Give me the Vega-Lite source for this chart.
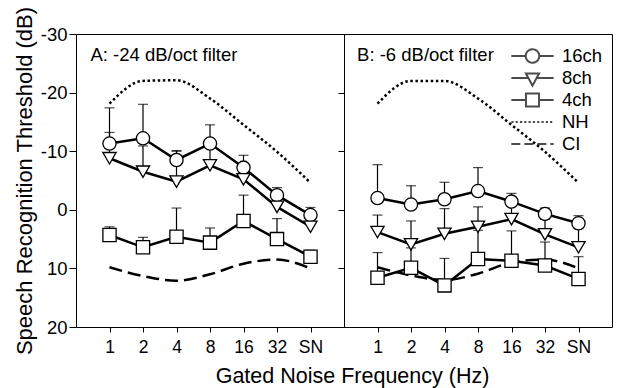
{
  "$schema": "https://vega.github.io/schema/vega-lite/v6.json",
  "padding": {"left": 12, "top": 5, "right": 4, "bottom": 0},
  "autosize": {"type": "pad"},
  "spacing": 0,
  "bounds": "flush",
  "config": {
    "font": "Liberation Sans",
    "view": {"stroke": "black", "strokeWidth": 1},
    "axis": {"domain": false, "grid": false, "tickColor": "black", "labelColor": "black", "titleColor": "black", "labelFont": "Liberation Sans", "titleFont": "Liberation Sans", "titleFontWeight": "normal"},
    "legend": {"labelFont": "Liberation Sans"}
  },
  "data": {"values": [
    {"panel": "A", "f": 1, "series": "16ch", "v": -11.3, "top": -17.4},
    {"panel": "A", "f": 2, "series": "16ch", "v": -12.2, "top": -18.0},
    {"panel": "A", "f": 3, "series": "16ch", "v": -8.5, "top": -10.1},
    {"panel": "A", "f": 4, "series": "16ch", "v": -11.3, "top": -14.5},
    {"panel": "A", "f": 5, "series": "16ch", "v": -7.2, "top": -9.3},
    {"panel": "A", "f": 6, "series": "16ch", "v": -2.5, "top": -3.8},
    {"panel": "A", "f": 7, "series": "16ch", "v": 0.9, "top": -0.4},
    {"panel": "A", "f": 1, "series": "8ch", "v": -8.8, "top": -13.2},
    {"panel": "A", "f": 2, "series": "8ch", "v": -6.5, "top": -10.9},
    {"panel": "A", "f": 3, "series": "8ch", "v": -4.8, "top": -10.0},
    {"panel": "A", "f": 4, "series": "8ch", "v": -7.6, "top": -10.6},
    {"panel": "A", "f": 5, "series": "8ch", "v": -5.2, "top": -7.0},
    {"panel": "A", "f": 6, "series": "8ch", "v": -0.5, "top": -1.6},
    {"panel": "A", "f": 7, "series": "8ch", "v": 2.9, "top": 1.5},
    {"panel": "A", "f": 1, "series": "4ch", "v": 4.3, "top": 2.9},
    {"panel": "A", "f": 2, "series": "4ch", "v": 6.4, "top": 4.7},
    {"panel": "A", "f": 3, "series": "4ch", "v": 4.6, "top": -0.3},
    {"panel": "A", "f": 4, "series": "4ch", "v": 5.6, "top": 3.1},
    {"panel": "A", "f": 5, "series": "4ch", "v": 1.9, "top": -2.5},
    {"panel": "A", "f": 6, "series": "4ch", "v": 5.0, "top": 1.5},
    {"panel": "A", "f": 7, "series": "4ch", "v": 8.0, "top": 6.9},
    {"panel": "A", "f": 1, "series": "NH", "v": -18.1},
    {"panel": "A", "f": 2, "series": "NH", "v": -22.0},
    {"panel": "A", "f": 3, "series": "NH", "v": -22.1},
    {"panel": "A", "f": 4, "series": "NH", "v": -19.0},
    {"panel": "A", "f": 5, "series": "NH", "v": -14.5},
    {"panel": "A", "f": 6, "series": "NH", "v": -9.9},
    {"panel": "A", "f": 7, "series": "NH", "v": -4.6},
    {"panel": "A", "f": 1, "series": "CI", "v": 9.8},
    {"panel": "A", "f": 2, "series": "CI", "v": 11.3},
    {"panel": "A", "f": 3, "series": "CI", "v": 12.1},
    {"panel": "A", "f": 4, "series": "CI", "v": 11.0},
    {"panel": "A", "f": 5, "series": "CI", "v": 9.2},
    {"panel": "A", "f": 6, "series": "CI", "v": 8.5},
    {"panel": "A", "f": 7, "series": "CI", "v": 10.0},
    {"panel": "B", "f": 1, "series": "16ch", "v": -2.0, "top": -7.7},
    {"panel": "B", "f": 2, "series": "16ch", "v": -0.9, "top": -4.1},
    {"panel": "B", "f": 3, "series": "16ch", "v": -1.8, "top": -4.7},
    {"panel": "B", "f": 4, "series": "16ch", "v": -3.2, "top": -7.2},
    {"panel": "B", "f": 5, "series": "16ch", "v": -1.4, "top": -2.8},
    {"panel": "B", "f": 6, "series": "16ch", "v": 0.7, "top": -0.3},
    {"panel": "B", "f": 7, "series": "16ch", "v": 2.3, "top": 1.0},
    {"panel": "B", "f": 1, "series": "8ch", "v": 3.8, "top": 0.9},
    {"panel": "B", "f": 2, "series": "8ch", "v": 5.9, "top": 1.9},
    {"panel": "B", "f": 3, "series": "8ch", "v": 4.1, "top": -0.2},
    {"panel": "B", "f": 4, "series": "8ch", "v": 2.9, "top": -0.5},
    {"panel": "B", "f": 5, "series": "8ch", "v": 1.6, "top": -1.6},
    {"panel": "B", "f": 6, "series": "8ch", "v": 4.2, "top": 1.6},
    {"panel": "B", "f": 7, "series": "8ch", "v": 6.4, "top": 3.2},
    {"panel": "B", "f": 1, "series": "4ch", "v": 11.6, "top": 7.3},
    {"panel": "B", "f": 2, "series": "4ch", "v": 9.9, "top": 6.5},
    {"panel": "B", "f": 3, "series": "4ch", "v": 12.9, "top": 8.3},
    {"panel": "B", "f": 4, "series": "4ch", "v": 8.4, "top": 3.5},
    {"panel": "B", "f": 5, "series": "4ch", "v": 8.7, "top": 3.6},
    {"panel": "B", "f": 6, "series": "4ch", "v": 9.5, "top": 5.5},
    {"panel": "B", "f": 7, "series": "4ch", "v": 11.8, "top": 8.0},
    {"panel": "B", "f": 1, "series": "NH", "v": -18.1},
    {"panel": "B", "f": 2, "series": "NH", "v": -22.0},
    {"panel": "B", "f": 3, "series": "NH", "v": -22.0},
    {"panel": "B", "f": 4, "series": "NH", "v": -19.0},
    {"panel": "B", "f": 5, "series": "NH", "v": -14.5},
    {"panel": "B", "f": 6, "series": "NH", "v": -9.9},
    {"panel": "B", "f": 7, "series": "NH", "v": -4.6},
    {"panel": "B", "f": 1, "series": "CI", "v": 9.8},
    {"panel": "B", "f": 2, "series": "CI", "v": 11.2},
    {"panel": "B", "f": 3, "series": "CI", "v": 12.0},
    {"panel": "B", "f": 4, "series": "CI", "v": 10.9},
    {"panel": "B", "f": 5, "series": "CI", "v": 9.0},
    {"panel": "B", "f": 6, "series": "CI", "v": 8.5},
    {"panel": "B", "f": 7, "series": "CI", "v": 10.0}
  ]},
  "hconcat": [
    {
      "width": 268,
      "height": 293,
      "transform": [{"filter": "datum.panel == 'A'"}],
      "encoding": {
        "x": {"field": "f", "type": "quantitative", "scale": {"domain": [0, 8], "nice": false},
          "axis": {"values": [1, 2, 3, 4, 5, 6, 7], "labelExpr": "['','1','2','4','8','16','32','SN'][datum.value]", "title": "Gated Noise Frequency (Hz)", "titleX": 276, "tickSize": 5, "labelFontSize": 17.5, "titleFontSize": 21.5, "labelPadding": 6, "titlePadding": 10}},
        "y": {"field": "v", "type": "quantitative", "scale": {"domain": [-30, 20], "reverse": true, "nice": false},
          "axis": {"values": [-30, -20, -10, 0, 10, 20], "labelExpr": "datum.value < 0 ? '-' + abs(datum.value) : '' + datum.value", "title": "Speech Recognition Threshold (dB)", "tickSize": 7, "labelFontSize": 18.5, "titleFontSize": 22, "labelPadding": 2, "titlePadding": 4}}
      },
      "layer": [
        {"transform": [{"filter": "isValid(datum.top)"}], "mark": {"type": "rule", "color": "black", "strokeWidth": 1.2}, "encoding": {"y2": {"field": "top"}}},
        {"transform": [{"filter": "isValid(datum.top)"}], "mark": {"type": "tick", "orient": "horizontal", "color": "black", "size": 10, "thickness": 1.2}, "encoding": {"y": {"field": "top", "type": "quantitative"}}},
        {"transform": [{"filter": "indexof(['16ch','8ch','4ch'], datum.series) >= 0"}], "mark": {"type": "line", "color": "black", "strokeWidth": 2.5}, "encoding": {"detail": {"field": "series"}}},
        {"transform": [{"filter": "datum.series == 'NH'"}], "mark": {"type": "line", "color": "black", "strokeWidth": 2.5, "strokeDash": [2.5, 2.6], "interpolate": "monotone"}, "encoding": {}},
        {"transform": [{"filter": "datum.series == 'CI'"}], "mark": {"type": "line", "color": "black", "strokeWidth": 2.5, "strokeDash": [13, 6], "interpolate": "monotone"}, "encoding": {}},
        {"transform": [{"filter": "indexof(['16ch','8ch','4ch'], datum.series) >= 0"}], "mark": {"type": "point", "filled": true, "fill": "white", "stroke": "black", "strokeWidth": 1.3, "size": 175, "opacity": 1},
          "encoding": {"shape": {"field": "series", "type": "nominal", "scale": {"domain": ["16ch", "8ch", "4ch"], "range": ["circle", "triangle-down", "square"]}, "legend": null}}},
        {"transform": [{"filter": "datum.series == 'NH' && datum.f == 1"}], "mark": {"type": "text", "align": "left", "baseline": "alphabetic", "fontSize": 18.5, "color": "black"}, "encoding": {"x": {"datum": 0.43}, "y": {"datum": -25.4}, "text": {"value": "A: -24 dB/oct filter"}}}
      ],
      "resolve": {"scale": {"shape": "independent"}}
    },
    {
      "width": 268,
      "height": 293,
      "transform": [{"filter": "datum.panel == 'B'"}],
      "encoding": {
        "x": {"field": "f", "type": "quantitative", "scale": {"domain": [0, 8], "nice": false},
          "axis": {"values": [1, 2, 3, 4, 5, 6, 7], "labelExpr": "['','1','2','4','8','16','32','SN'][datum.value]", "title": null, "tickSize": 5, "labelFontSize": 17.5, "labelPadding": 6}},
        "y": {"field": "v", "type": "quantitative", "scale": {"domain": [-30, 20], "reverse": true, "nice": false},
          "axis": {"values": [-30, -20, -10, 0, 10, 20], "title": null, "labels": false, "tickSize": 6}}
      },
      "layer": [
        {"transform": [{"filter": "isValid(datum.top)"}], "mark": {"type": "rule", "color": "black", "strokeWidth": 1.2}, "encoding": {"y2": {"field": "top"}}},
        {"transform": [{"filter": "isValid(datum.top)"}], "mark": {"type": "tick", "orient": "horizontal", "color": "black", "size": 10, "thickness": 1.2}, "encoding": {"y": {"field": "top", "type": "quantitative"}}},
        {"transform": [{"filter": "indexof(['16ch','8ch','4ch'], datum.series) >= 0"}], "mark": {"type": "line", "color": "black", "strokeWidth": 2.5}, "encoding": {"detail": {"field": "series"}}},
        {"transform": [{"filter": "datum.series == 'NH'"}], "mark": {"type": "line", "color": "black", "strokeWidth": 2.5, "strokeDash": [2.5, 2.6], "interpolate": "monotone"}, "encoding": {}},
        {"transform": [{"filter": "datum.series == 'CI'"}], "mark": {"type": "line", "color": "black", "strokeWidth": 2.5, "strokeDash": [13, 6], "interpolate": "monotone"}, "encoding": {}},
        {"transform": [{"filter": "indexof(['16ch','8ch','4ch'], datum.series) >= 0"}], "mark": {"type": "point", "filled": true, "fill": "white", "stroke": "black", "strokeWidth": 1.3, "size": 175, "opacity": 1},
          "encoding": {"shape": {"field": "series", "type": "nominal", "scale": {"domain": ["16ch", "8ch", "4ch"], "range": ["circle", "triangle-down", "square"]}, "legend": null}}},
        {"transform": [{"filter": "datum.series == 'NH' && datum.f == 1"}], "mark": {"type": "text", "align": "left", "baseline": "alphabetic", "fontSize": 18.5, "color": "black"}, "encoding": {"x": {"datum": 0.39}, "y": {"datum": -25.4}, "text": {"value": "B: -6 dB/oct filter"}}},
        {"transform": [{"filter": "false"}], "mark": {"type": "point", "filled": false, "color": "black", "strokeWidth": 2, "size": 1790},
          "encoding": {
            "shape": {"field": "series", "type": "nominal", "scale": {"domain": ["16ch", "8ch", "4ch", "NH", "CI"], "range": [
              "M-1,0H-0.32M0.32,0H1M0.32,0A0.32,0.32,0,1,1,-0.32,0A0.32,0.32,0,1,1,0.32,0Z",
              "M-1,0H-0.2M0.2,0H1M-0.31,-0.21H0.31L0,0.36Z",
              "M-1,0H-0.31M0.31,0H1M-0.31,-0.31H0.31V0.31H-0.31Z",
              "M-1,0H1",
              "M-1,0H1"]},
              "legend": {"title": null, "orient": "none", "legendX": 166, "legendY": 11, "symbolSize": 1790, "symbolStrokeWidth": 2, "symbolStrokeColor": "black", "labelFontSize": 18.5, "labelColor": "black", "labelOffset": 7, "clipHeight": 22, "rowPadding": 0, "labelFont": "Liberation Sans"}},
            "strokeDash": {"field": "series", "type": "nominal", "scale": {"domain": ["16ch", "8ch", "4ch", "NH", "CI"], "range": [[1, 0], [1, 0], [1, 0], [2.2, 2.1], [9, 4]]},
              "legend": {"title": null, "orient": "none", "legendX": 166, "legendY": 11, "symbolSize": 1790, "symbolStrokeWidth": 2, "symbolStrokeColor": "black", "labelFontSize": 18.5, "labelColor": "black", "labelOffset": 7, "clipHeight": 22, "rowPadding": 0, "labelFont": "Liberation Sans"}}
          }}
      ],
      "resolve": {"scale": {"shape": "independent", "strokeDash": "independent"}}
    }
  ]
}
